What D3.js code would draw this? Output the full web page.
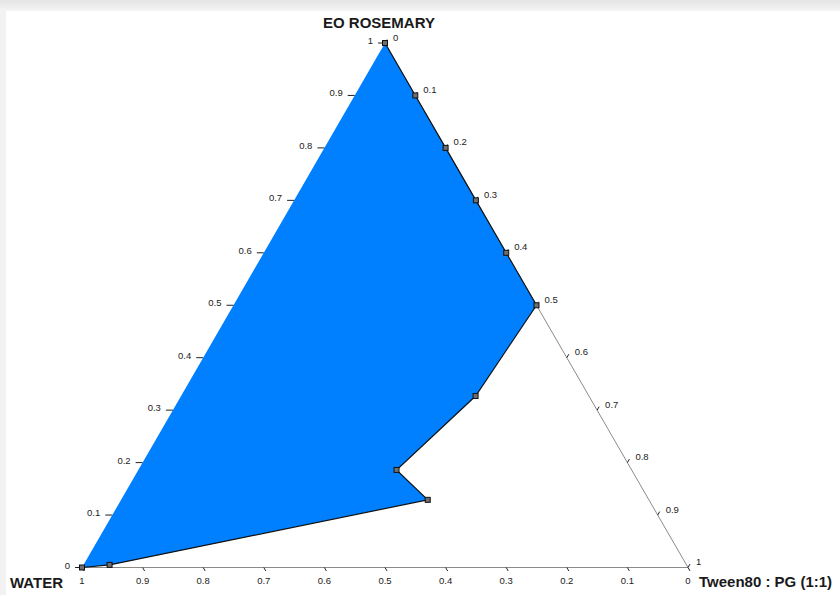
<!DOCTYPE html>
<html>
<head>
<meta charset="utf-8">
<script src="https://cdn.jsdelivr.net/npm/d3@7"></script>
<style>
  html, body { margin: 0; padding: 0; background: #fff; }
  svg { display: block; }
</style>
</head>
<body>
<div id="chart"></div>
<script>
// ── Ternary region (EO Rosemary / Water / Tween80:PG) ──
// vertex fractions of the shaded region
const WATER = [0, 0, 0, 0, 0, 0, 0.187, 0.388, 0.365, 0.952, 1];
const EO    = [1, 0.9, 0.8, 0.7, 0.6, 0.5, 0.327, 0.186, 0.129, 0.005, 0];
const TWEEN = [0, 0.1, 0.2, 0.3, 0.4, 0.5, 0.486, 0.426, 0.506, 0.043, 0];

const TICKS       = [0, 0.1, 0.2, 0.3, 0.4, 0.5, 0.6, 0.7, 0.8, 0.9, 1];
const TICK_LABELS = ["0", "0.1", "0.2", "0.3", "0.4", "0.5", "0.6", "0.7", "0.8", "0.9", "1"];

const LABEL_TOP    = "EO ROSEMARY";
const LABEL_LEFT   = "WATER";
const LABEL_RIGHT  = "Tween80 : PG (1:1)";

const FONT = "Arial, 'Liberation Sans', sans-serif";
const FILL = "#0080ff";

(function () {
  const W = 840, H = 595;
  const svg = d3.select("#chart").append("svg").attr("width", W).attr("height", H);

  // window-ish frame
  const defs = svg.append("defs");
  const grad = defs.append("linearGradient").attr("id", "topband")
    .attr("x1", 0).attr("y1", 0).attr("x2", 0).attr("y2", 1);
  grad.append("stop").attr("offset", "0%").attr("stop-color", "#e4e4e4");
  grad.append("stop").attr("offset", "100%").attr("stop-color", "#f4f4f4");
  svg.append("rect").attr("width", W).attr("height", H).attr("fill", "#f2f2f2");
  svg.append("rect").attr("width", W).attr("height", 11).attr("fill", "url(#topband)");
  svg.append("rect").attr("x", 6).attr("y", 11).attr("width", W - 6).attr("height", H - 11).attr("fill", "#fff");

  // scales: horizontal fraction (tween + eo/2) and eo height
  const x = d3.scaleLinear().domain([0, 1]).range([82, 688]);
  const y = d3.scaleLinear().domain([0, 1]).range([567.5, 43]);
  const pt = (e, t) => [x(t + e / 2), y(e)];

  const pts = WATER.map((w, i) => pt(EO[i], TWEEN[i]));

  // triangle frame (bottom + right edge)
  const frame = svg.append("g").attr("stroke", "#8a8a8a").attr("stroke-width", 1).attr("fill", "none");
  frame.append("line").attr("x1", pt(0, 0)[0]).attr("y1", pt(0, 0)[1])
    .attr("x2", pt(0, 1)[0]).attr("y2", pt(0, 1)[1]);
  frame.append("line").attr("x1", pt(1, 0)[0]).attr("y1", pt(1, 0)[1])
    .attr("x2", pt(0, 1)[0]).attr("y2", pt(0, 1)[1]);

  // region
  svg.append("path").attr("d", d3.line()(pts) + "Z").attr("fill", FILL).attr("stroke", "none");
  svg.append("path").attr("d", d3.line()(pts)).attr("fill", "none")
    .attr("stroke", "#111").attr("stroke-width", 1.2);

  // ticks
  const tk = svg.append("g").attr("stroke", "#222").attr("stroke-width", 1);
  const lab = svg.append("g").attr("font-family", FONT).attr("font-size", "9.5px").attr("fill", "#222");
  const c60 = Math.cos(Math.PI / 3), s60 = Math.sin(Math.PI / 3);

  TICKS.forEach((v, i) => {
    // left axis: EO fraction
    const [lx, ly] = pt(v, 0);
    tk.append("line").attr("x1", lx - 7).attr("y1", ly).attr("x2", lx).attr("y2", ly);
    lab.append("text").attr("x", lx - 12).attr("y", ly + 1).attr("text-anchor", "end")
      .text(TICK_LABELS[i]);

    // bottom axis: water fraction (1 at left)
    const [bx, by] = pt(0, 1 - v);
    tk.append("line").attr("x1", bx).attr("y1", by).attr("x2", bx + 2 * c60 * 2).attr("y2", by + 4 * s60);
    lab.append("text").attr("x", bx).attr("y", by + 16.5).attr("text-anchor", "middle")
      .text(TICK_LABELS[i]);

    // right axis: tween fraction (0 at top)
    const [rx, ry] = pt(1 - v, v);
    tk.append("line").attr("x1", rx).attr("y1", ry).attr("x2", rx + 4 * c60).attr("y2", ry - 4 * s60);
    lab.append("text").attr("x", rx + 8).attr("y", ry - 2.5).attr("text-anchor", "start")
      .text(TICK_LABELS[i]);
  });

  // vertex markers
  svg.append("g").selectAll("rect").data(pts).join("rect")
    .attr("x", d => d[0] - 2.5).attr("y", d => d[1] - 2.5)
    .attr("width", 5).attr("height", 5)
    .attr("fill", "#6e6e6e").attr("stroke", "#111").attr("stroke-width", 1);

  // corner titles
  const ttl = svg.append("g").attr("font-family", FONT).attr("font-weight", "bold")
    .attr("font-size", "15px").attr("fill", "#1a1a1a");
  ttl.append("text").attr("x", 379).attr("y", 28).attr("text-anchor", "middle").text(LABEL_TOP);
  ttl.append("text").attr("x", 10).attr("y", 588).attr("text-anchor", "start").text(LABEL_LEFT);
  ttl.append("text").attr("x", 699).attr("y", 587).attr("text-anchor", "start").text(LABEL_RIGHT);
})();
</script>
</body>
</html>
